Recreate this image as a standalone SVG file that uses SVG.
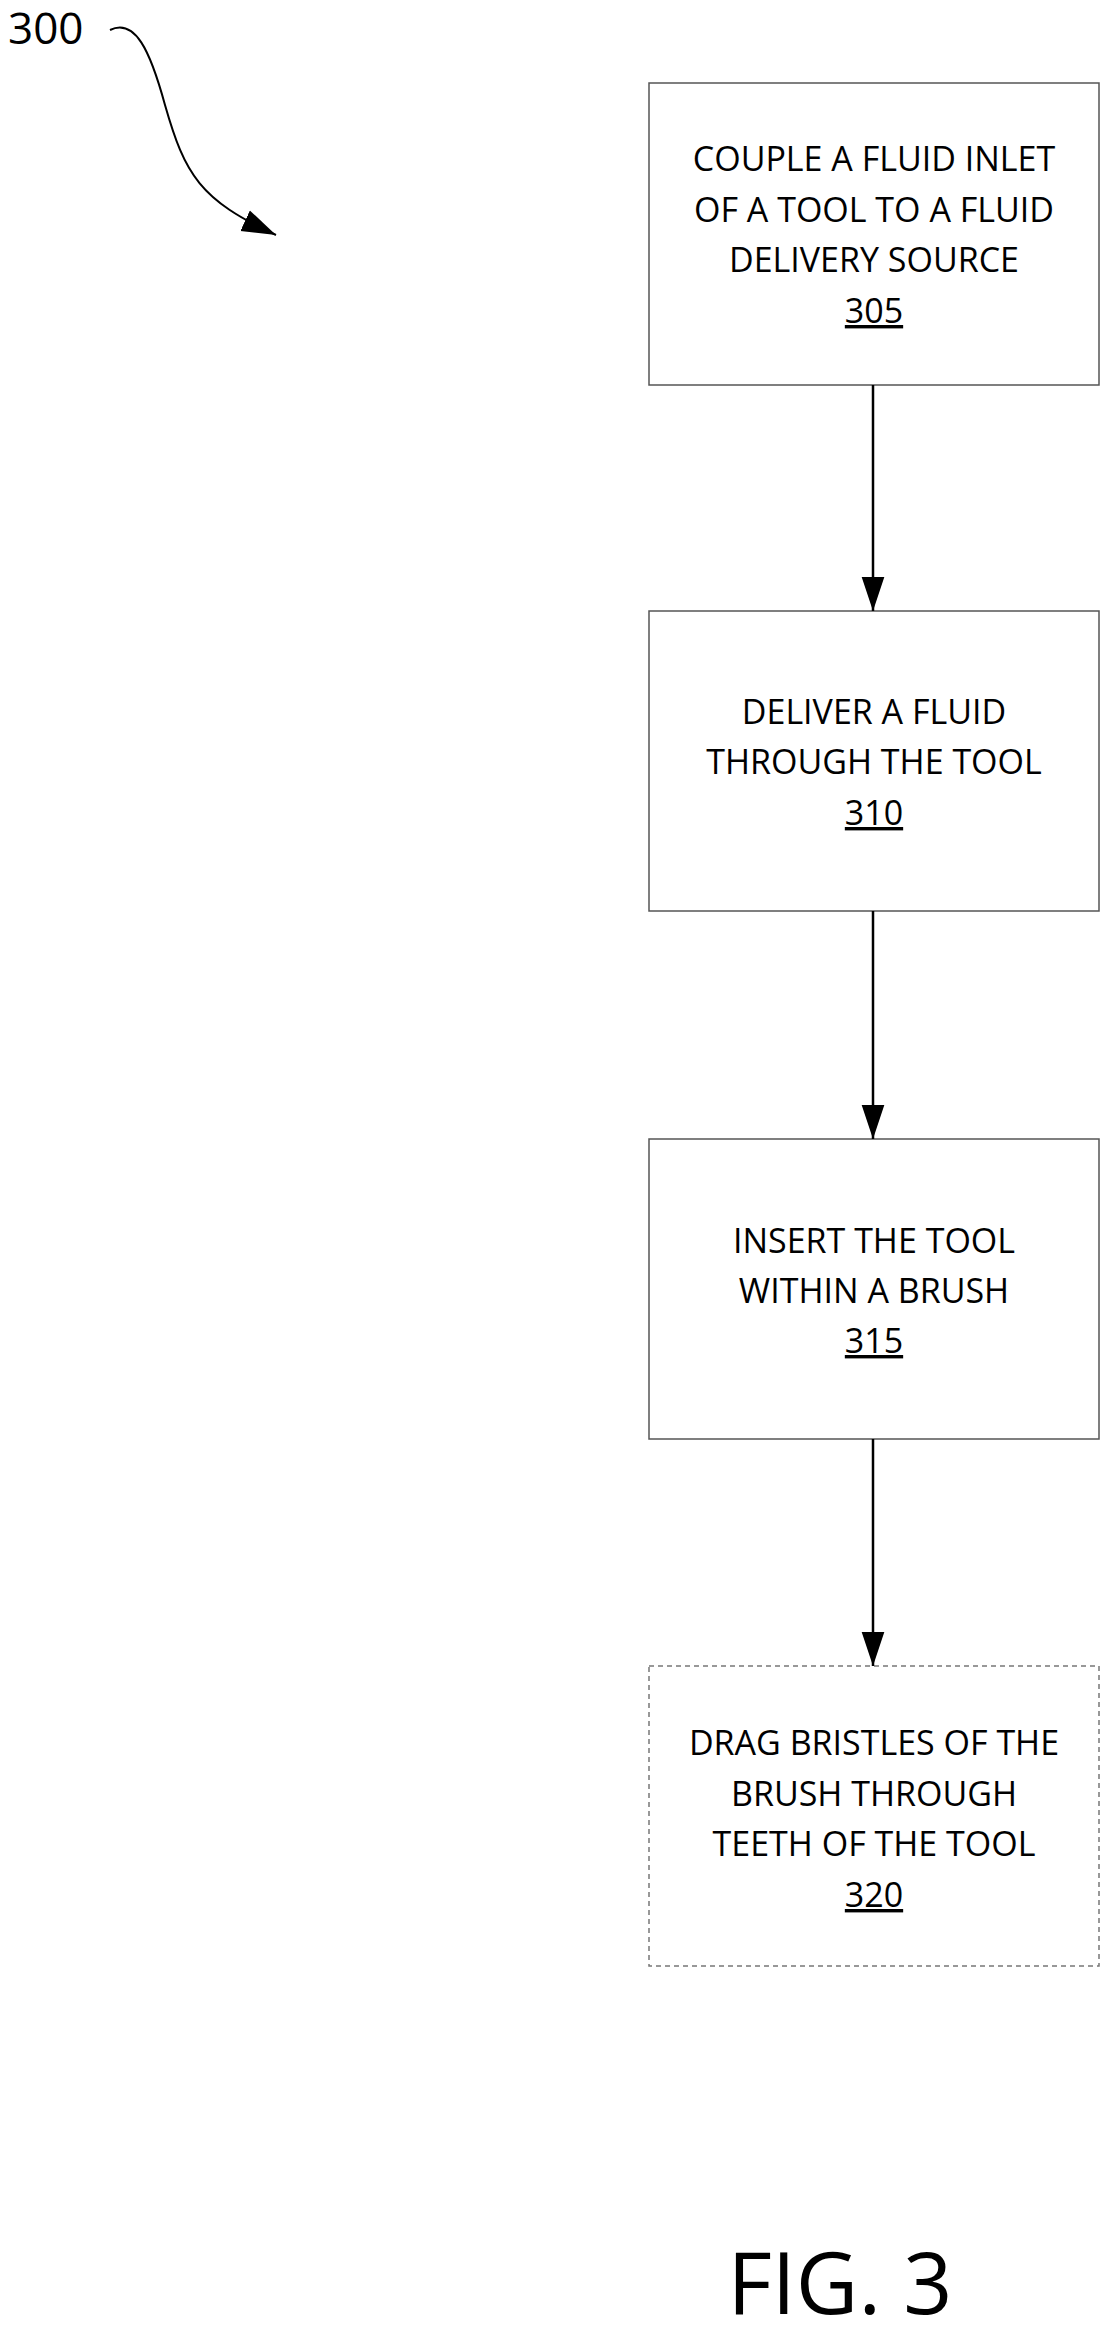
<svg xmlns="http://www.w3.org/2000/svg" width="1120" height="2341" viewBox="0 0 1120 2341">
<style>
text{font-family:"Open Sans","Liberation Sans",sans-serif;fill:#000}
.t{font-size:34px;text-anchor:middle}
.box{fill:#fff;stroke:#555;stroke-width:1.5}
.dash{fill:#fff;stroke:#777;stroke-width:1.5;stroke-dasharray:5 4}
.c{stroke:#000;stroke-width:2.5;fill:none}
</style>
<defs>
<marker id="ah2" viewBox="0 0 30 20" refX="30" refY="10" markerWidth="34" markerHeight="24" orient="auto" markerUnits="userSpaceOnUse"><path d="M0,0 L30,10 L0,20 z" fill="#000"/></marker></defs>
<rect width="1120" height="2341" fill="#fff"/>
<g id="label300"><text x="8" y="44" style="font-size:44px">300</text>
<path d="M110,30 C135,18 150,50 165,105 C185,175 200,200 276,235" fill="none" stroke="#000" stroke-width="2" marker-end="url(#ah2)"/></g>
<g id="n305"><rect class="box" x="649" y="83" width="450" height="302"/>
<text class="t" x="874" y="171">COUPLE A FLUID INLET</text><text class="t" x="874" y="222">OF A TOOL TO A FLUID</text><text class="t" x="874" y="272">DELIVERY SOURCE</text><text class="t" x="874" y="323" text-decoration="underline">305</text></g>
<g id="n310"><rect class="box" x="649" y="611" width="450" height="300"/>
<text class="t" x="874" y="724">DELIVER A FLUID</text><text class="t" x="874" y="774">THROUGH THE TOOL</text><text class="t" x="874" y="825" text-decoration="underline">310</text></g>
<g id="n315"><rect class="box" x="649" y="1139" width="450" height="300"/>
<text class="t" x="874" y="1253">INSERT THE TOOL</text><text class="t" x="874" y="1303">WITHIN A BRUSH</text><text class="t" x="874" y="1353" text-decoration="underline">315</text></g>
<g id="n320"><rect class="dash" x="649" y="1666" width="450" height="300"/>
<text class="t" x="874" y="1755">DRAG BRISTLES OF THE</text><text class="t" x="874" y="1806">BRUSH THROUGH</text><text class="t" x="874" y="1856">TEETH OF THE TOOL</text><text class="t" x="874" y="1907" text-decoration="underline">320</text></g>
<g id="connectors">
<line class="c" x1="873" y1="385" x2="873" y2="611" marker-end="url(#ah2)"/>
<line class="c" x1="873" y1="911" x2="873" y2="1139" marker-end="url(#ah2)"/>
<line class="c" x1="873" y1="1439" x2="873" y2="1666" marker-end="url(#ah2)"/>
</g>
<text x="840" y="2314" style="font-size:86px;text-anchor:middle">FIG. 3</text>
</svg>
